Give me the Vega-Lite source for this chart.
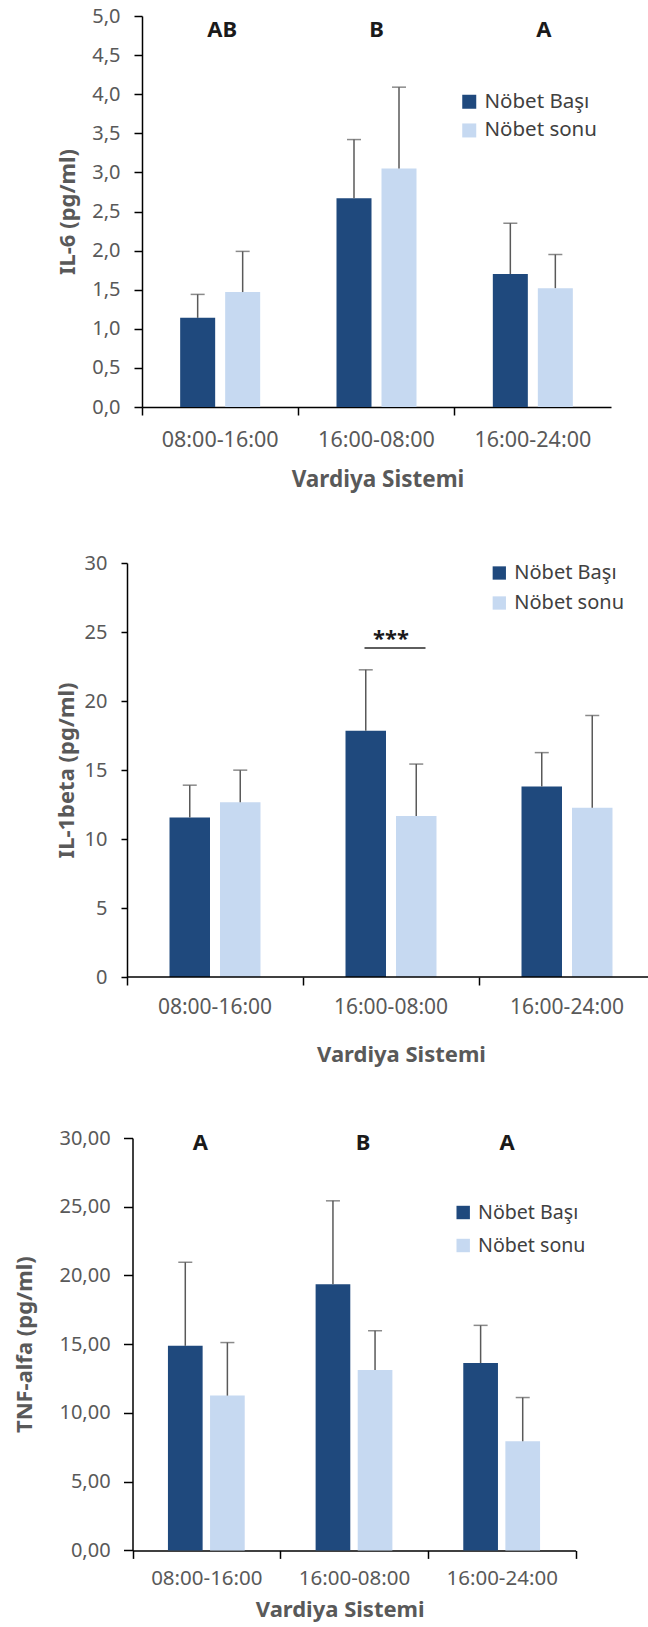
{
  "$schema": "https://vega.github.io/schema/vega-lite/v6.json",
  "background": "white",
  "padding": {"left": 13, "top": 6, "right": 0, "bottom": 3},
  "spacing": 62,
  "resolve": {"scale": {"x": "independent", "y": "independent", "xOffset": "independent", "color": "independent"}, "legend": {"color": "independent"}},
  "config": {
    "view": {"stroke": null},
    "font": "Noto Sans",
    "axis": {"grid": false, "domainColor": "#000000", "tickColor": "#000000", "domainWidth": 1.5, "tickWidth": 1.5, "labelColor": "#595959", "titleColor": "#595959", "labelFont": "Noto Sans", "titleFont": "Noto Sans", "titleFontWeight": "bold", "labelAngle": 0, "labelOverlap": false},
    "legend": {"labelFont": "Noto Sans", "labelColor": "#404040", "padding": 0, "symbolType": "square", "symbolOpacity": 1, "symbolStrokeWidth": 0, "labelOffset": 5},
    "text": {"fontSize": 22, "fontWeight": "bold", "color": "#1a1a1a", "baseline": "middle", "font": "Noto Sans"}
  },
  "datasets": {
    "il6": [
      {"vardiya": "08:00-16:00", "grup": "Nöbet Başı", "ortalama": 1.14, "ust": 1.44},
      {"vardiya": "08:00-16:00", "grup": "Nöbet sonu", "ortalama": 1.47, "ust": 1.99},
      {"vardiya": "16:00-08:00", "grup": "Nöbet Başı", "ortalama": 2.67, "ust": 3.42},
      {"vardiya": "16:00-08:00", "grup": "Nöbet sonu", "ortalama": 3.05, "ust": 4.09},
      {"vardiya": "16:00-24:00", "grup": "Nöbet Başı", "ortalama": 1.70, "ust": 2.35},
      {"vardiya": "16:00-24:00", "grup": "Nöbet sonu", "ortalama": 1.52, "ust": 1.95}
    ],
    "il1b": [
      {"vardiya": "08:00-16:00", "grup": "Nöbet Başı", "ortalama": 11.55, "ust": 13.9},
      {"vardiya": "08:00-16:00", "grup": "Nöbet sonu", "ortalama": 12.66, "ust": 14.99},
      {"vardiya": "16:00-08:00", "grup": "Nöbet Başı", "ortalama": 17.84, "ust": 22.26},
      {"vardiya": "16:00-08:00", "grup": "Nöbet sonu", "ortalama": 11.67, "ust": 15.43},
      {"vardiya": "16:00-24:00", "grup": "Nöbet Başı", "ortalama": 13.80, "ust": 16.26},
      {"vardiya": "16:00-24:00", "grup": "Nöbet sonu", "ortalama": 12.27, "ust": 18.95}
    ],
    "tnf": [
      {"vardiya": "08:00-16:00", "grup": "Nöbet Başı", "ortalama": 14.88, "ust": 20.96},
      {"vardiya": "08:00-16:00", "grup": "Nöbet sonu", "ortalama": 11.26, "ust": 15.12},
      {"vardiya": "16:00-08:00", "grup": "Nöbet Başı", "ortalama": 19.37, "ust": 25.43},
      {"vardiya": "16:00-08:00", "grup": "Nöbet sonu", "ortalama": 13.12, "ust": 15.98},
      {"vardiya": "16:00-24:00", "grup": "Nöbet Başı", "ortalama": 13.63, "ust": 16.37},
      {"vardiya": "16:00-24:00", "grup": "Nöbet sonu", "ortalama": 7.94, "ust": 11.12}
    ]
  },
  "vconcat": [
    {
      "width": 484,
      "height": 391,
      "data": {"name": "il6"},
      "layer": [
        {
          "mark": {"type": "bar"},
          "encoding": {
            "x": {"field": "vardiya", "type": "nominal", "scale": {"domain": ["08:00-16:00", "16:00-08:00", "16:00-24:00"], "range": [15, 484], "paddingInner": 0, "paddingOuter": 0},
              "axis": {"title": "Vardiya Sistemi", "bandPosition": 0, "tickSize": 8, "labelPadding": 14, "labelFontSize": 21.5, "titleFontSize": 22.5, "titleX": 250.5, "titleY": 79, "titleBaseline": "alphabetic"}},
            "xOffset": {"field": "grup", "type": "nominal", "scale": {"paddingInner": 0.222, "paddingOuter": 0.848}},
            "y": {"field": "ortalama", "type": "quantitative", "title": "IL-6 (pg/ml)", "scale": {"domain": [0, 5], "nice": false},
              "axis": {"values": [0, 0.5, 1, 1.5, 2, 2.5, 3, 3.5, 4, 4.5, 5], "tickCount": 11, "labelOverlap": false, "labelExpr": "replace(format(datum.value, '.1f'), '.', ',')", "offset": -15, "tickSize": 8, "labelPadding": 14, "labelFontSize": 20, "titleFontSize": 22, "titleX": -68, "titleBaseline": "alphabetic"}},
            "color": {"field": "grup", "type": "nominal", "scale": {"domain": ["Nöbet Başı", "Nöbet sonu"], "range": ["#1F497D", "#C6D9F1"]},
              "legend": {"title": null, "orient": "none", "legendX": 332, "legendY": 75.5, "symbolSize": 196, "labelFontSize": 20.5, "rowPadding": 7.7}}
          }
        },
        {
          "mark": {"type": "rule", "color": "#595959", "strokeWidth": 1.5},
          "encoding": {
            "x": {"field": "vardiya", "type": "nominal"},
            "xOffset": {"field": "grup", "type": "nominal"},
            "y": {"field": "ortalama", "type": "quantitative", "title": "IL-6 (pg/ml)"},
            "y2": {"field": "ust"}
          }
        },
        {
          "mark": {"type": "tick", "orient": "horizontal", "size": 14, "thickness": 1.5, "color": "#595959"},
          "encoding": {
            "x": {"field": "vardiya", "type": "nominal"},
            "xOffset": {"field": "grup", "type": "nominal"},
            "y": {"field": "ust", "type": "quantitative", "title": "IL-6 (pg/ml)"}
          }
        },
        {
          "data": {"values": [{"vardiya": "08:00-16:00", "harf": "AB"}]},
          "mark": {"type": "text", "dx": 2},
          "encoding": {"x": {"field": "vardiya", "type": "nominal"}, "y": {"datum": 4.82}, "text": {"field": "harf"}}
        },
        {
          "data": {"values": [{"vardiya": "16:00-08:00", "harf": "B"}]},
          "mark": {"type": "text", "dx": 0},
          "encoding": {"x": {"field": "vardiya", "type": "nominal"}, "y": {"datum": 4.82}, "text": {"field": "harf"}}
        },
        {
          "data": {"values": [{"vardiya": "16:00-24:00", "harf": "A"}]},
          "mark": {"type": "text", "dx": 11},
          "encoding": {"x": {"field": "vardiya", "type": "nominal"}, "y": {"datum": 4.82}, "text": {"field": "harf"}}
        }
      ]
    },
    {
      "width": 521,
      "height": 414,
      "data": {"name": "il1b"},
      "layer": [
        {
          "mark": {"type": "bar"},
          "encoding": {
            "x": {"field": "vardiya", "type": "nominal", "scale": {"domain": ["08:00-16:00", "16:00-08:00", "16:00-24:00"], "range": [0, 528], "paddingInner": 0, "paddingOuter": 0},
              "axis": {"title": "Vardiya Sistemi", "domain": false, "bandPosition": 0, "tickSize": 8, "labelPadding": 11.6, "labelFontSize": 21, "titleFontSize": 22, "titleX": 274, "titleY": 84.5, "titleBaseline": "alphabetic"}},
            "xOffset": {"field": "grup", "type": "nominal", "scale": {"paddingInner": 0.198, "paddingOuter": 0.842}},
            "y": {"field": "ortalama", "type": "quantitative", "title": "IL-1beta (pg/ml)", "scale": {"domain": [0, 30], "nice": false},
              "axis": {"values": [0, 5, 10, 15, 20, 25, 30], "tickSize": 6, "labelPadding": 14, "labelFontSize": 20, "titleFontSize": 22, "titleX": -53.8, "titleBaseline": "alphabetic"}},
            "color": {"field": "grup", "type": "nominal", "scale": {"domain": ["Nöbet Başı", "Nöbet sonu"], "range": ["#1F497D", "#C6D9F1"]},
              "legend": {"title": null, "orient": "none", "legendX": 362.3, "legendY": 0, "symbolSize": 177, "labelFontSize": 20, "rowPadding": 10}}
          }
        },
        {
          "mark": {"type": "rule", "color": "#595959", "strokeWidth": 1.5},
          "encoding": {
            "x": {"field": "vardiya", "type": "nominal"},
            "xOffset": {"field": "grup", "type": "nominal"},
            "y": {"field": "ortalama", "type": "quantitative", "title": "IL-1beta (pg/ml)"},
            "y2": {"field": "ust"}
          }
        },
        {
          "mark": {"type": "tick", "orient": "horizontal", "size": 14, "thickness": 1.5, "color": "#595959"},
          "encoding": {
            "x": {"field": "vardiya", "type": "nominal"},
            "xOffset": {"field": "grup", "type": "nominal"},
            "y": {"field": "ust", "type": "quantitative", "title": "IL-1beta (pg/ml)"}
          }
        },
        {
          "data": {"values": [{"vardiya": "16:00-08:00", "isaret": "***"}]},
          "layer": [
            {
              "mark": {"type": "text"},
              "encoding": {
                "x": {"field": "vardiya", "type": "nominal"},
                "y": {"datum": 24.5},
                "text": {"field": "isaret"}
              }
            },
            {
              "mark": {"type": "tick", "orient": "horizontal", "size": 61, "thickness": 2, "color": "#1a1a1a", "xOffset": 4},
              "encoding": {
                "x": {"field": "vardiya", "type": "nominal"},
                "y": {"datum": 23.84}
              }
            }
          ]
        },
        {
          "data": {"values": [{}]},
          "mark": {"type": "rule", "color": "#000000", "strokeWidth": 1.5},
          "encoding": {"y": {"datum": 0}}
        }
      ]
    },
    {
      "width": 449,
      "height": 412.4,
      "data": {"name": "tnf"},
      "layer": [
        {
          "mark": {"type": "bar"},
          "encoding": {
            "x": {"field": "vardiya", "type": "nominal", "scale": {"domain": ["08:00-16:00", "16:00-08:00", "16:00-24:00"], "range": [5.5, 448.5], "paddingInner": 0, "paddingOuter": 0},
              "axis": {"title": "Vardiya Sistemi", "tickBand": "extent", "tickSize": 8, "labelPadding": 10.4, "labelFontSize": 20.5, "titleFontSize": 22, "titleX": 212.7, "titleY": 66, "titleBaseline": "alphabetic"}},
            "xOffset": {"field": "grup", "type": "nominal", "scale": {"paddingInner": 0.176, "paddingOuter": 0.842}},
            "y": {"field": "ortalama", "type": "quantitative", "title": "TNF-alfa  (pg/ml)", "scale": {"domain": [0, 30], "nice": false},
              "axis": {"values": [0, 5, 10, 15, 20, 25, 30], "labelExpr": "replace(format(datum.value, '.2f'), '.', ',')", "offset": -5.5, "tickSize": 9, "labelPadding": 13.4, "labelFontSize": 20, "titleFontSize": 22, "titleX": -101.5, "titleBaseline": "alphabetic"}},
            "color": {"field": "grup", "type": "nominal", "scale": {"domain": ["Nöbet Başı", "Nöbet sonu"], "range": ["#1F497D", "#C6D9F1"]},
              "legend": {"title": null, "orient": "none", "legendX": 326.4, "legendY": 64.7, "symbolSize": 180, "labelFontSize": 19.6, "rowPadding": 12}}
          }
        },
        {
          "mark": {"type": "rule", "color": "#595959", "strokeWidth": 1.5},
          "encoding": {
            "x": {"field": "vardiya", "type": "nominal"},
            "xOffset": {"field": "grup", "type": "nominal"},
            "y": {"field": "ortalama", "type": "quantitative", "title": "TNF-alfa  (pg/ml)"},
            "y2": {"field": "ust"}
          }
        },
        {
          "mark": {"type": "tick", "orient": "horizontal", "size": 14, "thickness": 1.5, "color": "#595959"},
          "encoding": {
            "x": {"field": "vardiya", "type": "nominal"},
            "xOffset": {"field": "grup", "type": "nominal"},
            "y": {"field": "ust", "type": "quantitative", "title": "TNF-alfa  (pg/ml)"}
          }
        },
        {
          "data": {"values": [{"vardiya": "08:00-16:00", "harf": "A"}]},
          "mark": {"type": "text", "dx": -6},
          "encoding": {"x": {"field": "vardiya", "type": "nominal"}, "y": {"datum": 29.66}, "text": {"field": "harf"}}
        },
        {
          "data": {"values": [{"vardiya": "16:00-08:00", "harf": "B"}]},
          "mark": {"type": "text", "dx": 9},
          "encoding": {"x": {"field": "vardiya", "type": "nominal"}, "y": {"datum": 29.66}, "text": {"field": "harf"}}
        },
        {
          "data": {"values": [{"vardiya": "16:00-24:00", "harf": "A"}]},
          "mark": {"type": "text", "dx": 5.5},
          "encoding": {"x": {"field": "vardiya", "type": "nominal"}, "y": {"datum": 29.66}, "text": {"field": "harf"}}
        }
      ]
    }
  ]
}
